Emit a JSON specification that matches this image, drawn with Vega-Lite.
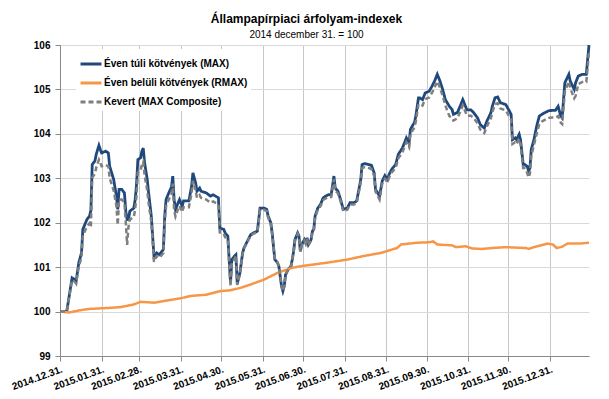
{
"$schema":"https://vega.github.io/schema/vega-lite/v6.json",
"width":529,"height":311,
"autosize":{"type":"none"},
"padding":{"left":60,"top":45,"right":20,"bottom":43},
"background":"white",
"title":{"text":"Állampapírpiaci árfolyam-indexek","subtitle":"2014 december 31. = 100","anchor":"middle","frame":"group","dx":-18,"font":"Liberation Sans","fontSize":12,"fontWeight":"bold","color":"#000000","subtitleFont":"Liberation Sans","subtitleFontSize":10,"subtitleColor":"#000000","subtitlePadding":4,"offset":-2},
"config":{"view":{"stroke":null},
"axis":{"grid":true,"gridColor":"#D9D9D9","gridWidth":1,"gridOpacity":1,"domainColor":"#898989","tickColor":"#898989","tickSize":5,"labelFont":"Liberation Sans","labelFontSize":10,"labelFontWeight":"bold","labelColor":"#000000","title":null}},
"data":{"format":{"parse":{"t":"date:'%Y/%m/%d'"}},"values":[
{"t":"2014/12/31","a":100,"k":100},
{"t":"2015/01/05","a":100,"k":100},
{"t":"2015/01/09","a":100.76,"k":100.71},
{"t":"2015/01/11","a":100.72,"k":100.67},
{"t":"2015/01/12","a":100.68,"k":100.63},
{"t":"2015/01/14","a":101.10,"k":101.02},
{"t":"2015/01/16","a":101.32,"k":101.22},
{"t":"2015/01/17","a":101.85,"k":101.71},
{"t":"2015/01/20","a":102.07,"k":101.91},
{"t":"2015/01/22","a":102.15,"k":101.99},
{"t":"2015/01/23","a":102.28,"k":101.90},
{"t":"2015/01/24","a":103.31,"k":103.02},
{"t":"2015/01/26","a":103.39,"k":103.10},
{"t":"2015/01/27","a":103.54,"k":103.24},
{"t":"2015/01/29","a":103.74,"k":103.42},
{"t":"2015/01/30","a":103.65,"k":103.35},
{"t":"2015/01/31","a":103.57,"k":103.27},
{"t":"2015/02/03","a":103.61,"k":103.30},
{"t":"2015/02/05","a":103.57,"k":103.27},
{"t":"2015/02/06","a":103.27,"k":103.00},
{"t":"2015/02/09","a":102.97,"k":102.72},
{"t":"2015/02/11","a":102.60,"k":102.38},
{"t":"2015/02/12","a":102.30,"k":101.95},
{"t":"2015/02/13","a":102.75,"k":102.52},
{"t":"2015/02/15","a":102.75,"k":102.52},
{"t":"2015/02/17","a":102.67,"k":102.44},
{"t":"2015/02/18","a":102.26,"k":102.00},
{"t":"2015/02/19","a":102.07,"k":101.50},
{"t":"2015/02/20","a":102.07,"k":101.91},
{"t":"2015/02/21","a":102.26,"k":102.07},
{"t":"2015/02/24","a":102.33,"k":102.13},
{"t":"2015/02/25","a":102.52,"k":102.31},
{"t":"2015/02/26","a":102.86,"k":102.62},
{"t":"2015/02/27","a":103.42,"k":103.13},
{"t":"2015/03/01","a":103.46,"k":103.17},
{"t":"2015/03/02","a":103.61,"k":103.31},
{"t":"2015/03/03","a":103.68,"k":103.37},
{"t":"2015/03/04","a":103.35,"k":103.07},
{"t":"2015/03/06","a":102.97,"k":102.72},
{"t":"2015/03/07","a":102.67,"k":102.44},
{"t":"2015/03/09","a":102.15,"k":102.02},
{"t":"2015/03/10","a":101.70,"k":101.60},
{"t":"2015/03/11","a":101.25,"k":101.12},
{"t":"2015/03/13","a":101.32,"k":101.25},
{"t":"2015/03/15","a":101.28,"k":101.21},
{"t":"2015/03/18","a":101.40,"k":101.32},
{"t":"2015/03/19","a":102.15,"k":102.00},
{"t":"2015/03/20","a":102.52,"k":102.38},
{"t":"2015/03/22","a":102.67,"k":102.52},
{"t":"2015/03/24","a":102.80,"k":102.64},
{"t":"2015/03/25","a":103.05,"k":102.88},
{"t":"2015/03/26","a":102.52,"k":102.28},
{"t":"2015/03/27","a":102.30,"k":102.14},
{"t":"2015/03/29","a":102.45,"k":102.31},
{"t":"2015/03/30","a":102.52,"k":102.38},
{"t":"2015/04/01","a":102.37,"k":102.24},
{"t":"2015/04/02","a":102.49,"k":102.35},
{"t":"2015/04/04","a":102.49,"k":102.35},
{"t":"2015/04/06","a":102.49,"k":102.35},
{"t":"2015/04/08","a":102.82,"k":102.66},
{"t":"2015/04/09","a":103.12,"k":102.94},
{"t":"2015/04/11","a":102.90,"k":102.73},
{"t":"2015/04/12","a":102.71,"k":102.56},
{"t":"2015/04/14","a":102.78,"k":102.62},
{"t":"2015/04/15","a":102.71,"k":102.56},
{"t":"2015/04/19","a":102.67,"k":102.52},
{"t":"2015/04/22","a":102.60,"k":102.45},
{"t":"2015/04/24","a":102.63,"k":102.48},
{"t":"2015/04/28","a":102.56,"k":102.41},
{"t":"2015/04/29","a":101.88,"k":101.78},
{"t":"2015/05/02","a":101.85,"k":101.75},
{"t":"2015/05/03","a":101.77,"k":101.67},
{"t":"2015/05/05","a":101.70,"k":101.61},
{"t":"2015/05/06","a":101.17,"k":101.11},
{"t":"2015/05/07","a":100.65,"k":100.57},
{"t":"2015/05/08","a":101.17,"k":101.11},
{"t":"2015/05/10","a":101.25,"k":101.18},
{"t":"2015/05/11","a":101.28,"k":101.26},
{"t":"2015/05/12","a":100.63,"k":100.60},
{"t":"2015/05/14","a":100.87,"k":100.85},
{"t":"2015/05/16","a":101.32,"k":101.31},
{"t":"2015/05/17","a":101.43,"k":101.42},
{"t":"2015/05/19","a":101.55,"k":101.53},
{"t":"2015/05/22","a":101.73,"k":101.71},
{"t":"2015/05/24","a":101.77,"k":101.75},
{"t":"2015/05/27","a":101.81,"k":101.79},
{"t":"2015/05/28","a":102.07,"k":102.04},
{"t":"2015/05/29","a":102.33,"k":102.29},
{"t":"2015/06/01","a":102.33,"k":102.29},
{"t":"2015/06/03","a":102.30,"k":102.26},
{"t":"2015/06/04","a":102.15,"k":102.12},
{"t":"2015/06/06","a":102.00,"k":101.97},
{"t":"2015/06/07","a":101.77,"k":101.75},
{"t":"2015/06/08","a":101.47,"k":101.46},
{"t":"2015/06/09","a":101.17,"k":101.16},
{"t":"2015/06/11","a":101.10,"k":101.10},
{"t":"2015/06/12","a":101.02,"k":101.02},
{"t":"2015/06/13","a":100.80,"k":100.80},
{"t":"2015/06/14","a":100.57,"k":100.57},
{"t":"2015/06/15","a":100.46,"k":100.46},
{"t":"2015/06/16","a":100.57,"k":100.57},
{"t":"2015/06/17","a":100.83,"k":100.83},
{"t":"2015/06/19","a":100.95,"k":100.95},
{"t":"2015/06/21","a":101.02,"k":101.02},
{"t":"2015/06/22","a":101.17,"k":101.16},
{"t":"2015/06/23","a":101.36,"k":101.35},
{"t":"2015/06/24","a":101.62,"k":101.60},
{"t":"2015/06/26","a":101.77,"k":101.75},
{"t":"2015/06/27","a":101.70,"k":101.68},
{"t":"2015/06/28","a":101.36,"k":101.35},
{"t":"2015/06/29","a":101.51,"k":101.49},
{"t":"2015/07/01","a":101.62,"k":101.60},
{"t":"2015/07/02","a":101.55,"k":101.53},
{"t":"2015/07/03","a":101.66,"k":101.64},
{"t":"2015/07/04","a":101.51,"k":101.49},
{"t":"2015/07/06","a":101.62,"k":101.60},
{"t":"2015/07/07","a":101.81,"k":101.79},
{"t":"2015/07/08","a":101.85,"k":101.82},
{"t":"2015/07/09","a":102.15,"k":102.12},
{"t":"2015/07/11","a":102.33,"k":102.29},
{"t":"2015/07/12","a":102.37,"k":102.33},
{"t":"2015/07/13","a":102.41,"k":102.37},
{"t":"2015/07/15","a":102.56,"k":102.51},
{"t":"2015/07/17","a":102.60,"k":102.55},
{"t":"2015/07/19","a":102.63,"k":102.58},
{"t":"2015/07/21","a":102.63,"k":102.58},
{"t":"2015/07/23","a":103.05,"k":102.98},
{"t":"2015/07/24","a":102.78,"k":102.72},
{"t":"2015/07/26","a":102.71,"k":102.66},
{"t":"2015/07/28","a":102.52,"k":102.48},
{"t":"2015/07/30","a":102.30,"k":102.26},
{"t":"2015/08/02","a":102.33,"k":102.29},
{"t":"2015/08/04","a":102.45,"k":102.41},
{"t":"2015/08/07","a":102.45,"k":102.41},
{"t":"2015/08/09","a":102.49,"k":102.45},
{"t":"2015/08/12","a":102.97,"k":102.91},
{"t":"2015/08/13","a":103.31,"k":103.23},
{"t":"2015/08/15","a":103.33,"k":103.25},
{"t":"2015/08/18","a":103.31,"k":103.23},
{"t":"2015/08/20","a":103.29,"k":103.21},
{"t":"2015/08/22","a":103.12,"k":103.05},
{"t":"2015/08/23","a":102.75,"k":102.70},
{"t":"2015/08/26","a":102.60,"k":102.52},
{"t":"2015/08/28","a":102.94,"k":102.88},
{"t":"2015/08/30","a":103.06,"k":102.99},
{"t":"2015/09/01","a":102.97,"k":102.91},
{"t":"2015/09/02","a":103.08,"k":103.01},
{"t":"2015/09/04","a":103.20,"k":103.13},
{"t":"2015/09/07","a":103.31,"k":103.23},
{"t":"2015/09/09","a":103.54,"k":103.45},
{"t":"2015/09/12","a":103.68,"k":103.59},
{"t":"2015/09/14","a":103.83,"k":103.73},
{"t":"2015/09/15","a":103.91,"k":103.81},
{"t":"2015/09/17","a":103.80,"k":103.70},
{"t":"2015/09/18","a":104.10,"k":103.99},
{"t":"2015/09/20","a":104.21,"k":104.10},
{"t":"2015/09/21","a":104.25,"k":104.14},
{"t":"2015/09/22","a":104.40,"k":104.28},
{"t":"2015/09/24","a":104.81,"k":104.67},
{"t":"2015/09/25","a":104.81,"k":104.67},
{"t":"2015/09/27","a":104.77,"k":104.64},
{"t":"2015/09/29","a":104.92,"k":104.78},
{"t":"2015/10/02","a":104.96,"k":104.82},
{"t":"2015/10/04","a":105.07,"k":104.92},
{"t":"2015/10/06","a":105.19,"k":105.04},
{"t":"2015/10/08","a":105.34,"k":105.18},
{"t":"2015/10/10","a":105.19,"k":105.04},
{"t":"2015/10/12","a":105.00,"k":104.86},
{"t":"2015/10/14","a":104.77,"k":104.64},
{"t":"2015/10/17","a":104.62,"k":104.40},
{"t":"2015/10/19","a":104.55,"k":104.35},
{"t":"2015/10/20","a":104.44,"k":104.30},
{"t":"2015/10/23","a":104.48,"k":104.35},
{"t":"2015/10/25","a":104.62,"k":104.49},
{"t":"2015/10/27","a":104.77,"k":104.64},
{"t":"2015/10/29","a":104.62,"k":104.49},
{"t":"2015/10/30","a":104.54,"k":104.41},
{"t":"2015/11/02","a":104.54,"k":104.41},
{"t":"2015/11/04","a":104.48,"k":104.36},
{"t":"2015/11/07","a":104.36,"k":104.24},
{"t":"2015/11/09","a":104.21,"k":104.10},
{"t":"2015/11/12","a":104.13,"k":104.02},
{"t":"2015/11/14","a":104.29,"k":104.17},
{"t":"2015/11/17","a":104.48,"k":104.36},
{"t":"2015/11/18","a":104.62,"k":104.49},
{"t":"2015/11/20","a":104.81,"k":104.67},
{"t":"2015/11/22","a":104.83,"k":104.69},
{"t":"2015/11/24","a":104.70,"k":104.57},
{"t":"2015/11/28","a":104.66,"k":104.53},
{"t":"2015/11/30","a":104.55,"k":104.42},
{"t":"2015/12/02","a":104.44,"k":104.32},
{"t":"2015/12/03","a":103.87,"k":103.77},
{"t":"2015/12/05","a":103.91,"k":103.81},
{"t":"2015/12/06","a":103.87,"k":103.77},
{"t":"2015/12/08","a":103.99,"k":103.89},
{"t":"2015/12/09","a":103.87,"k":103.77},
{"t":"2015/12/11","a":103.31,"k":103.23},
{"t":"2015/12/12","a":103.31,"k":103.23},
{"t":"2015/12/14","a":103.27,"k":103.12},
{"t":"2015/12/15","a":103.16,"k":103.02},
{"t":"2015/12/16","a":103.23,"k":103.10},
{"t":"2015/12/17","a":103.65,"k":103.50},
{"t":"2015/12/19","a":103.87,"k":103.75},
{"t":"2015/12/21","a":104.17,"k":104.00},
{"t":"2015/12/23","a":104.40,"k":104.22},
{"t":"2015/12/25","a":104.44,"k":104.28},
{"t":"2015/12/28","a":104.49,"k":104.33},
{"t":"2015/12/30","a":104.52,"k":104.36},
{"t":"2016/01/02","a":104.53,"k":104.37},
{"t":"2016/01/04","a":104.53,"k":104.37},
{"t":"2016/01/06","a":104.62,"k":104.40},
{"t":"2016/01/08","a":104.40,"k":104.25},
{"t":"2016/01/09","a":104.36,"k":104.22},
{"t":"2016/01/11","a":105.15,"k":104.95},
{"t":"2016/01/14","a":105.34,"k":105.18},
{"t":"2016/01/15","a":105.19,"k":105.03},
{"t":"2016/01/18","a":105.00,"k":104.80},
{"t":"2016/01/19","a":105.15,"k":104.85},
{"t":"2016/01/21","a":105.30,"k":105.12},
{"t":"2016/01/24","a":105.34,"k":105.17},
{"t":"2016/01/27","a":105.34,"k":105.17},
{"t":"2016/01/28","a":105.68,"k":105.50},
{"t":"2016/01/29","a":106.00,"k":105.88},
{"t":"2014/12/31","r":100.00},
{"t":"2015/01/07","r":99.98},
{"t":"2015/01/15","r":100.03},
{"t":"2015/01/22","r":100.06},
{"t":"2015/02/04","r":100.08},
{"t":"2015/02/14","r":100.10},
{"t":"2015/02/24","r":100.16},
{"t":"2015/03/01","r":100.22},
{"t":"2015/03/11","r":100.20},
{"t":"2015/03/21","r":100.25},
{"t":"2015/03/31","r":100.30},
{"t":"2015/04/07","r":100.35},
{"t":"2015/04/19","r":100.38},
{"t":"2015/04/29","r":100.46},
{"t":"2015/05/07","r":100.48},
{"t":"2015/05/14","r":100.53},
{"t":"2015/05/22","r":100.61},
{"t":"2015/06/01","r":100.72},
{"t":"2015/06/11","r":100.87},
{"t":"2015/06/21","r":100.98},
{"t":"2015/06/28","r":101.02},
{"t":"2015/07/08","r":101.06},
{"t":"2015/07/20","r":101.11},
{"t":"2015/08/02","r":101.17},
{"t":"2015/08/14","r":101.25},
{"t":"2015/08/27","r":101.32},
{"t":"2015/09/08","r":101.43},
{"t":"2015/09/11","r":101.51},
{"t":"2015/09/23","r":101.55},
{"t":"2015/10/02","r":101.56},
{"t":"2015/10/05","r":101.58},
{"t":"2015/10/08","r":101.51},
{"t":"2015/10/19","r":101.49},
{"t":"2015/10/22","r":101.45},
{"t":"2015/10/29","r":101.47},
{"t":"2015/11/03","r":101.42},
{"t":"2015/11/10","r":101.41},
{"t":"2015/11/18","r":101.43},
{"t":"2015/11/28","r":101.45},
{"t":"2015/12/13","r":101.43},
{"t":"2015/12/15","r":101.41},
{"t":"2015/12/20","r":101.46},
{"t":"2015/12/29","r":101.53},
{"t":"2016/01/02","r":101.51},
{"t":"2016/01/05","r":101.43},
{"t":"2016/01/09","r":101.46},
{"t":"2016/01/13","r":101.53},
{"t":"2016/01/22","r":101.53},
{"t":"2016/01/29","r":101.55}
]},
"transform":[{"fold":["a","r","k"],"as":["s","v"]},{"filter":"isValid(datum.v)"}],
"encoding":{
"x":{"field":"t","type":"temporal","scale":{"domain":[{"year":2014,"month":12,"date":31},{"year":2016,"month":1,"date":29}]},
"axis":{"values":[{"year":2014,"month":12,"date":31},{"year":2015,"month":1,"date":31},{"year":2015,"month":2,"date":28},{"year":2015,"month":3,"date":31},{"year":2015,"month":4,"date":30},{"year":2015,"month":5,"date":31},{"year":2015,"month":6,"date":30},{"year":2015,"month":7,"date":31},{"year":2015,"month":8,"date":31},{"year":2015,"month":9,"date":30},{"year":2015,"month":10,"date":31},{"year":2015,"month":11,"date":30},{"year":2015,"month":12,"date":31}],
"format":"%Y.%m.%d.","labelAngle":-20,"labelAlign":"right","labelBaseline":"top","labelPadding":3,"labelOverlap":false,"grid":true,"gridColor":"#C8C8C8"}},
"y":{"field":"v","type":"quantitative","scale":{"domain":[99,106],"nice":false,"zero":false},
"axis":{"values":[99,100,101,102,103,104,105,106],"labelPadding":5,"grid":true}},
"color":{"field":"s","type":"nominal","scale":{"domain":["a","r","k"],"range":["#1F497D","#F79646","#7F7F7F"]},
"legend":{"title":null,"orient":"none","legendX":16,"legendY":4,"symbolType":"stroke","symbolSize":440,"symbolStrokeWidth":3,"labelFont":"Liberation Sans","labelFontSize":10,"labelFontWeight":"bold","labelColor":"#000000","labelOffset":1,"rowPadding":1,"padding":3,"fillColor":"white",
"labelExpr":"datum.value=='a'?'Éven túli kötvények (MAX)':datum.value=='r'?'Éven belüli kötvények (RMAX)':'Kevert (MAX Composite)'"}},
"strokeDash":{"field":"s","type":"nominal","scale":{"domain":["a","r","k"],"range":[[1,0],[1,0],[5,3]]},
"legend":{"title":null,"orient":"none","legendX":16,"legendY":4,"symbolType":"stroke","symbolSize":440,"symbolStrokeWidth":3,"labelFont":"Liberation Sans","labelFontSize":10,"labelFontWeight":"bold","labelColor":"#000000","labelOffset":1,"rowPadding":1,"padding":3,"fillColor":"white",
"labelExpr":"datum.value=='a'?'Éven túli kötvények (MAX)':datum.value=='r'?'Éven belüli kötvények (RMAX)':'Kevert (MAX Composite)'"}}
},
"layer":[
{"transform":[{"filter":"datum.s=='a'"}],"mark":{"type":"line","strokeWidth":2.8}},
{"transform":[{"filter":"datum.s=='r'"}],"mark":{"type":"line","strokeWidth":2.5}},
{"transform":[{"filter":"datum.s=='k'"}],"mark":{"type":"line","strokeWidth":2.5}}
]
}
